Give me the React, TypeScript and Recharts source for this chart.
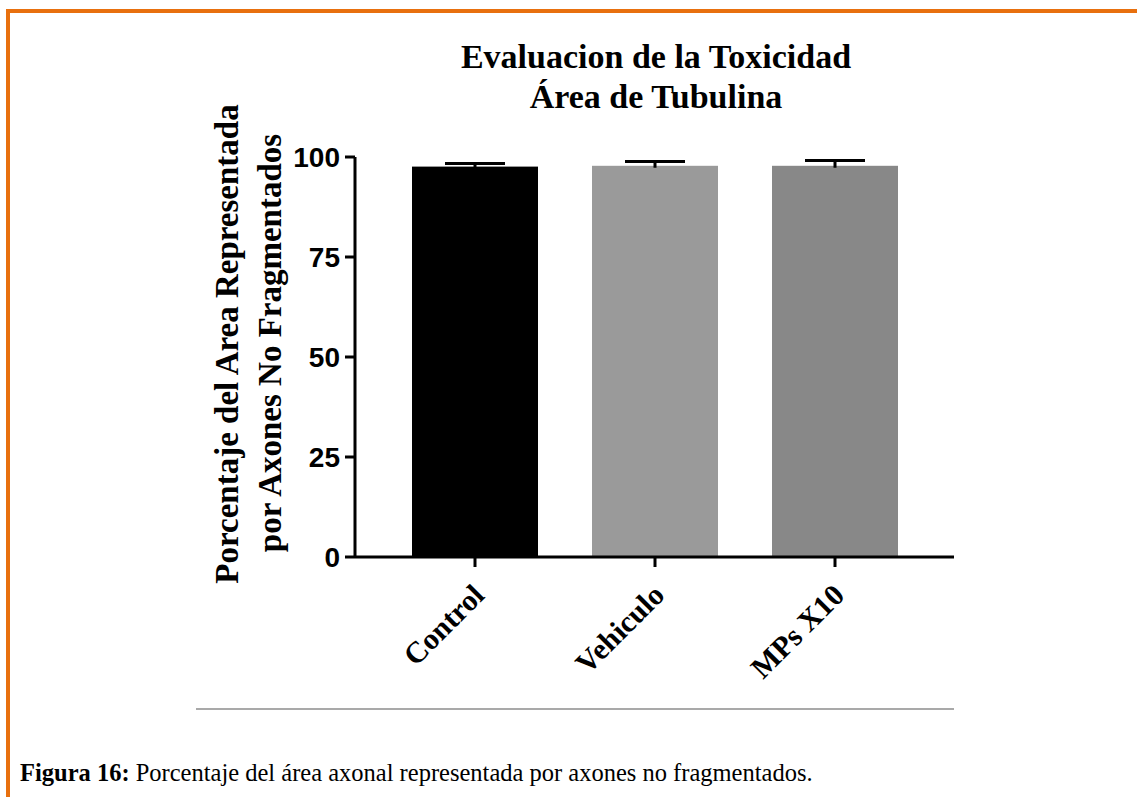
import React from 'react';
import { BarChart, Bar, XAxis, YAxis } from 'recharts';

const groups = ['Control', 'Vehiculo', 'MPs X10'];
const means = [97.6, 97.8, 97.8];
const sems = [0.8, 1.1, 1.3];
const yTicks = [0, 25, 50, 75, 100];
const barColors = ['#000000', '#9a9a9a', '#888888'];

const rows = groups.map((g, i) => ({ group: g, mean: means[i], sem: sems[i] }));

const ORANGE = '#E8700E';
const SERIF = '"Liberation Serif", "Times New Roman", serif';

// bar + upper half of the SEM whisker, like Prism draws it
const BarWithError = (props: any) => {
  const { x, y, width, height, index, payload } = props;
  const perUnit = height / payload.mean;
  const top = y - payload.sem * perUnit;
  const cx = x + width / 2;
  return (
    <g>
      <rect x={x} y={y} width={width} height={height} fill={barColors[index]} />
      <line x1={cx} x2={cx} y1={y + 2} y2={top} stroke="#000" strokeWidth={3} />
      <line x1={cx - 30} x2={cx + 30} y1={top} y2={top} stroke="#000" strokeWidth={3} />
    </g>
  );
};

const XTick = (props: any) => {
  const { x, y, payload } = props;
  return (
    <g transform={`translate(${x + 11},${y + 28})`}>
      <text
        x={0}
        y={0}
        textAnchor="end"
        transform="rotate(-45)"
        fontFamily={SERIF}
        fontWeight="bold"
        fontSize={30}
        fill="#000"
      >
        {payload.value}
      </text>
    </g>
  );
};

export default function App() {
  return (
    <div style={{ position: 'absolute', left: 0, top: 0, width: 1137, height: 797, background: '#fff', overflow: 'hidden' }}>
      <div style={{ position: 'absolute', left: 0, top: 0 }}>
        <BarChart
          width={1137}
          height={797}
          data={rows}
          margin={{ top: 157, right: 183, bottom: 140, left: 275 }}
        >
          <XAxis
            dataKey="group"
            height={100}
            padding={{ left: 30, right: 29 }}
            axisLine={{ stroke: '#000', strokeWidth: 3 }}
            tickLine={{ stroke: '#000', strokeWidth: 3 }}
            tickSize={10}
            tick={<XTick />}
            interval={0}
          />
          <YAxis
            width={80}
            domain={[0, 100]}
            ticks={yTicks}
            allowDataOverflow
            axisLine={{ stroke: '#000', strokeWidth: 3 }}
            tickLine={{ stroke: '#000', strokeWidth: 3 }}
            tickSize={10}
            tickMargin={5}
            tick={{ fill: '#000', fontSize: 28, fontWeight: 'bold', fontFamily: '"Liberation Sans", Arial, sans-serif' }}
          />
          <Bar dataKey="mean" barSize={126} shape={<BarWithError />} isAnimationActive={false} />
        </BarChart>
      </div>
      <svg
        width={1137}
        height={797}
        style={{ position: 'absolute', left: 0, top: 0, pointerEvents: 'none' }}
      >
        <rect x={6} y={9} width={1131} height={4} fill={ORANGE} />
        <rect x={6} y={9} width={4} height={788} fill={ORANGE} />
        <text x={656} y={68} textAnchor="middle" fontFamily={SERIF} fontWeight="bold" fontSize={34}>
          Evaluacion de la Toxicidad
        </text>
        <text x={656} y={108} textAnchor="middle" fontFamily={SERIF} fontWeight="bold" fontSize={34}>
          Área de Tubulina
        </text>
        <text
          transform="translate(238,344) rotate(-90)"
          textAnchor="middle"
          fontFamily={SERIF}
          fontWeight="bold"
          fontSize={33}
        >
          Porcentaje del Area Representada
        </text>
        <text
          transform="translate(281,343) rotate(-90)"
          textAnchor="middle"
          fontFamily={SERIF}
          fontWeight="bold"
          fontSize={33}
        >
          por Axones No Fragmentados
        </text>
        <line x1={196} x2={954} y1={709} y2={709} stroke="#8c8c8c" strokeWidth={1.5} />
        <text x={20} y={781} fontFamily={SERIF} fontSize={24.5} fill="#000">
          <tspan fontWeight="bold">Figura 16:</tspan> Porcentaje del área axonal representada por axones no fragmentados.
        </text>
      </svg>
    </div>
  );
}
